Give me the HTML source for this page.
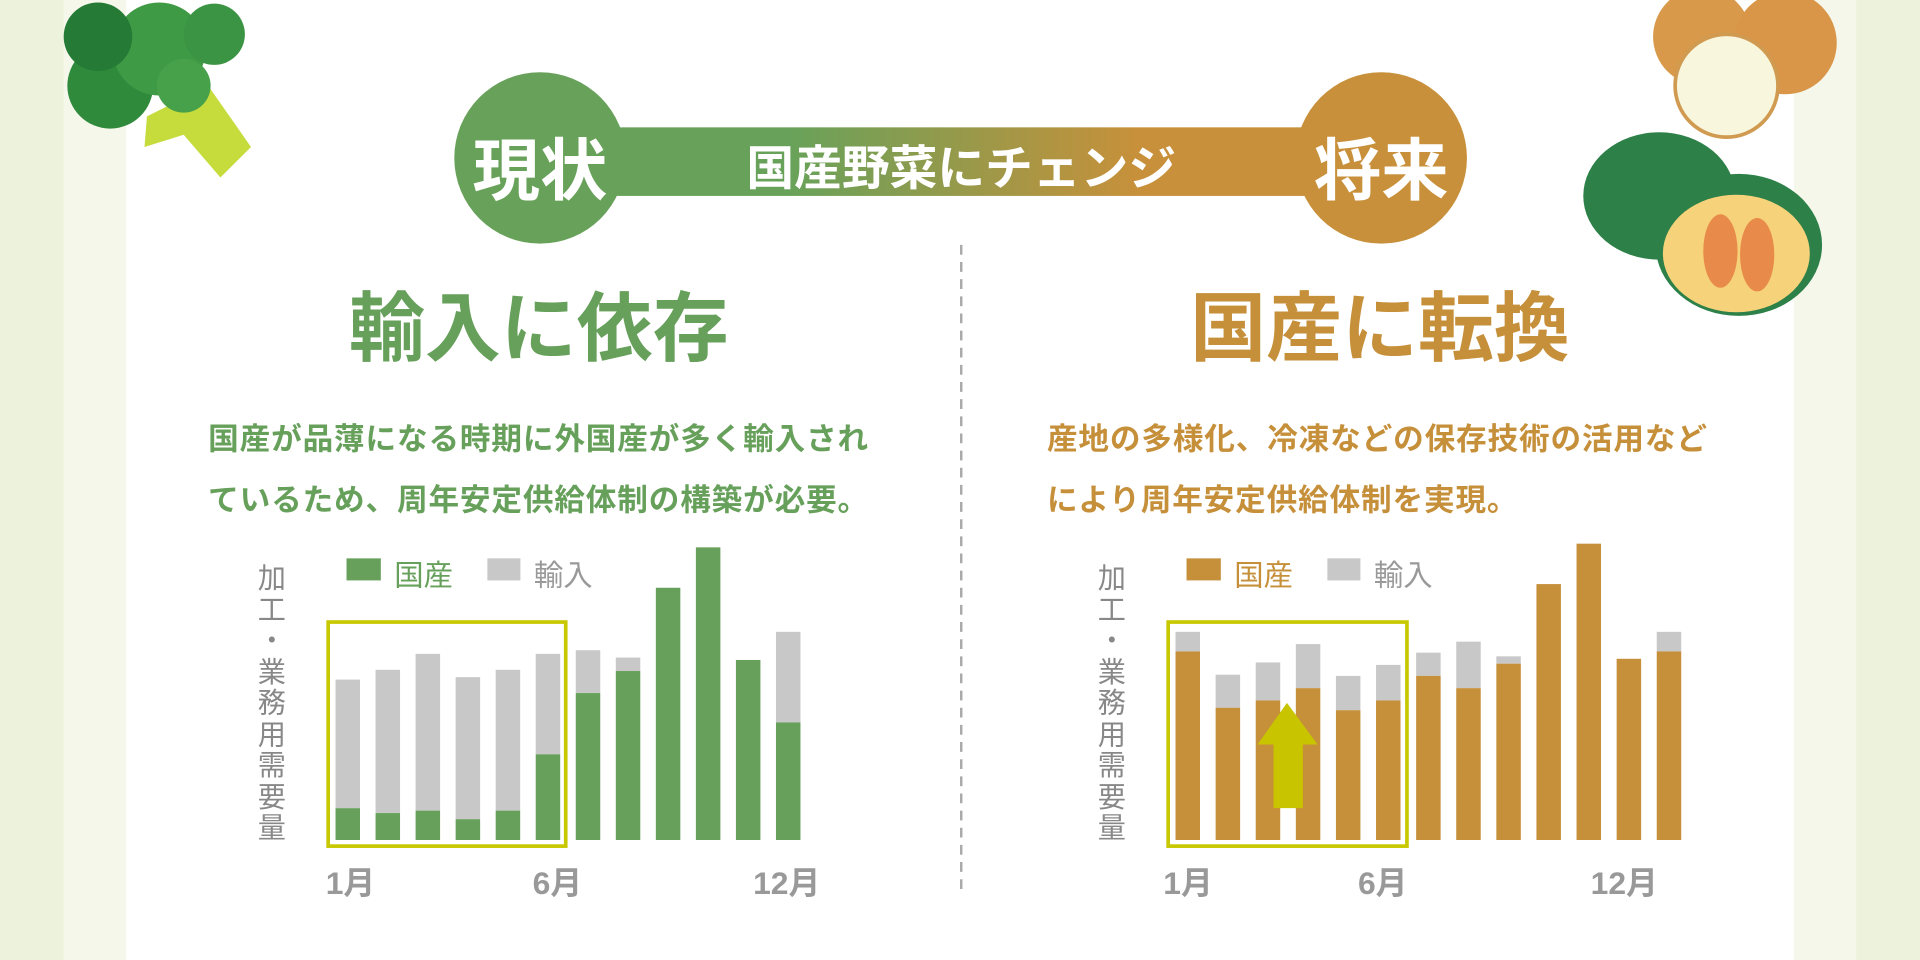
<!DOCTYPE html>
<html><head><meta charset="utf-8"><style>
body{margin:0;width:1920px;height:960px;overflow:hidden;background:#edf2dc}
#w{position:absolute;left:0;top:0;width:1568px;height:784px;transform:scale(1.2245);transform-origin:0 0;font-family:"Liberation Sans","Noto Sans CJK JP",sans-serif}
.a{position:absolute;white-space:nowrap}
.v{position:absolute;width:30px;text-align:center;color:#888;font-size:23px;line-height:25.5px}
</style></head><body><div id="w">
<svg width="1568" height="784" style="position:absolute;left:0;top:0">
<defs><linearGradient id="g" x1="0" x2="1"><stop offset="0.25" stop-color="#68a25a"/><stop offset="0.75" stop-color="#c8903a"/></linearGradient></defs>
<rect x="0" y="0" width="1568" height="784" fill="#edf2dc"/>
<rect x="52" y="0" width="1464" height="784" fill="#f4f7ea"/>
<rect x="103" y="0" width="1362" height="784" fill="#fff"/>
<path d="M120 95 L170 70 L205 120 L180 145 L150 110 L118 120Z" fill="#c5dc3c"/>
<circle cx="90" cy="70" r="35" fill="#2f8a3c"/><circle cx="130" cy="40" r="38" fill="#3f9a45"/><circle cx="80" cy="30" r="28" fill="#257a35"/><circle cx="175" cy="28" r="25" fill="#3a9443"/><circle cx="150" cy="70" r="22" fill="#47a04a"/>
<circle cx="1390" cy="30" r="40" fill="#d89a4a"/><circle cx="1458" cy="35" r="42" fill="#d99548"/><ellipse cx="1410" cy="70" rx="42" ry="42" fill="#f8f6dc" stroke="#d09a50" stroke-width="3"/>
<ellipse cx="1355" cy="160" rx="62" ry="52" fill="#2c8048"/><ellipse cx="1420" cy="200" rx="68" ry="58" fill="#2c8048"/><ellipse cx="1418" cy="207" rx="60" ry="48" fill="#f6d27a"/>
<ellipse cx="1405" cy="205" rx="14" ry="30" fill="#e88a4a"/><ellipse cx="1435" cy="208" rx="14" ry="30" fill="#e88a4a"/>
<rect x="500" y="104" width="575" height="56" fill="url(#g)"/>
<circle cx="441" cy="129" r="70" fill="#68a25a"/><circle cx="1128" cy="129" r="70" fill="#c8903a"/>
<line x1="785" y1="200" x2="785" y2="728" stroke="#aaa" stroke-width="2" stroke-dasharray="8,6"/>
<g id="L"></g>
</svg>
<div class="a" style="left:371px;top:95px;width:140px;text-align:center;color:#fff;font-size:55px;font-weight:bold">現状</div>
<div class="a" style="left:1058px;top:95px;width:140px;text-align:center;color:#fff;font-size:55px;font-weight:bold">将来</div>
<div class="a" style="left:600px;top:107px;width:370px;text-align:center;color:#fff;font-size:39px;font-weight:bold">国産野菜にチェンジ</div>
<div class="a" style="left:240px;top:218px;width:400px;text-align:center;color:#66a05a;font-size:62px;font-weight:bold">輸入に依存</div>
<div class="a" style="left:927px;top:218px;width:400px;text-align:center;color:#c68f3a;font-size:62px;font-weight:bold">国産に転換</div>
<div class="a" style="left:170px;top:334px;color:#66a05a;font-size:25px;letter-spacing:0.7px;font-weight:bold;line-height:50px">国産が品薄になる時期に外国産が多く輸入され<br>ているため、周年安定供給体制の構築が必要。</div>
<div class="a" style="left:855px;top:334px;color:#c68f3a;font-size:25px;letter-spacing:0.7px;font-weight:bold;line-height:50px">産地の多様化、冷凍などの保存技術の活用など<br>により周年安定供給体制を実現。</div>
<div class="v" style="left:207px;top:460px">加<br>工<br>・<br>業<br>務<br>用<br>需<br>要<br>量</div>
<div class="v" style="left:893px;top:460px">加<br>工<br>・<br>業<br>務<br>用<br>需<br>要<br>量</div>
<div class="a" style="left:283px;top:456px;width:28px;height:18px;background:#66a05a"></div>
<div class="a" style="left:322px;top:450px;color:#66a05a;font-size:24px">国産</div>
<div class="a" style="left:398px;top:456px;width:27px;height:18px;background:#c8c8c8"></div>
<div class="a" style="left:436px;top:450px;color:#999;font-size:24px">輸入</div>
<div class="a" style="left:969px;top:456px;width:28px;height:18px;background:#c68f3a"></div>
<div class="a" style="left:1008px;top:450px;color:#c68f3a;font-size:24px">国産</div>
<div class="a" style="left:1084px;top:456px;width:27px;height:18px;background:#c8c8c8"></div>
<div class="a" style="left:1122px;top:450px;color:#999;font-size:24px">輸入</div>
<div class="a" style="left:266px;top:701px;color:#999;font-size:26px;font-weight:bold">1月</div>
<div class="a" style="left:435px;top:701px;color:#999;font-size:26px;font-weight:bold">6月</div>
<div class="a" style="left:615px;top:701px;color:#999;font-size:26px;font-weight:bold">12月</div>
<div class="a" style="left:950px;top:701px;color:#999;font-size:26px;font-weight:bold">1月</div>
<div class="a" style="left:1109px;top:701px;color:#999;font-size:26px;font-weight:bold">6月</div>
<div class="a" style="left:1299px;top:701px;color:#999;font-size:26px;font-weight:bold">12月</div>
</div>
<script>
var s='',B=686;
function bars(xs,c,d,g){for(var i=0;i<xs.length;i++){if(g[i])s+='<rect x="'+xs[i]+'" y="'+g[i]+'" width="20" height="'+(d[i]-g[i])+'" fill="#c8c8c8"/>';s+='<rect x="'+xs[i]+'" y="'+d[i]+'" width="20" height="'+(B-d[i])+'" fill="'+c+'"/>';}}
var xl=[],xr=[];for(var i=0;i<12;i++)xl.push(274+i*32.7);for(i=0;i<13;i++)xr.push(960+i*32.75);
bars(xl,'#66a05a',[660,664,662,669,662,616,566,548,480,447,539,590],[555,547,534,553,547,534,531,537,0,0,0,516]);
bars(xr,'#c68f3a',[532,578,572,562,580,572,552,562,542,477,444,538,532],[516,551,541,526,552,543,533,524,536,0,0,0,516]);
s+='<rect x="268" y="508" width="194" height="183" fill="none" stroke="#c8c800" stroke-width="3"/>';
s+='<rect x="954" y="508" width="195" height="183" fill="none" stroke="#c8c800" stroke-width="3"/>';
s+='<path d="M1051 574 L1076 608 L1064 608 L1064 660 L1040 660 L1040 608 L1027 608Z" fill="#c8c400"/>';
document.getElementById('L').innerHTML=s;
</script>
</body></html>
